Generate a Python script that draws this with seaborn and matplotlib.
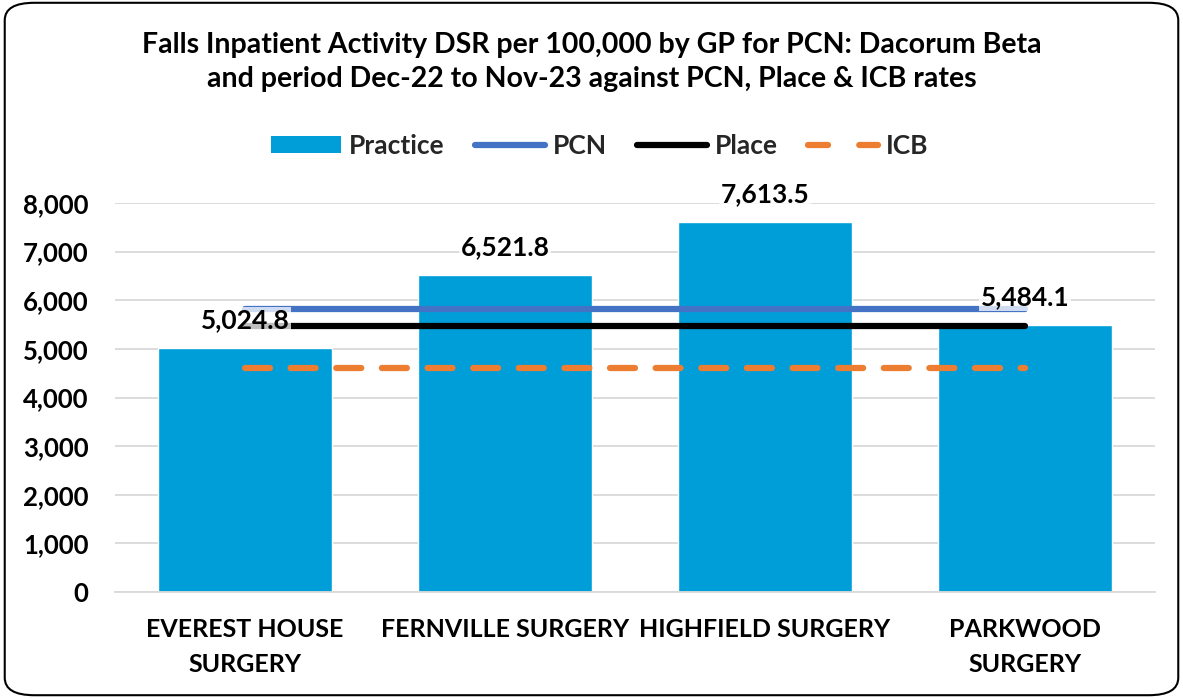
import matplotlib
matplotlib.use("Agg")
import matplotlib.pyplot as plt
from matplotlib.patches import FancyBboxPatch
from matplotlib.lines import Line2D
from matplotlib.patches import Patch
import seaborn as sns
import pandas as pd

categories = ["EVEREST HOUSE\nSURGERY", "FERNVILLE SURGERY", "HIGHFIELD SURGERY", "PARKWOOD\nSURGERY"]
practice = [5024.8, 6521.8, 7613.5, 5484.1]
pcn_rate = 5818.0
place_rate = 5480.0
icb_rate = 4603.0
yticks = [0, 1000, 2000, 3000, 4000, 5000, 6000, 7000, 8000]
title = "Falls Inpatient Activity DSR per 100,000 by GP for PCN: Dacorum Beta\nand period Dec-22 to Nov-23 against PCN, Place & ICB rates"

sns.set_theme(style="white")
plt.rcParams['font.family'] = ['Lato', 'DejaVu Sans']

fig = plt.figure(figsize=(11.83, 6.98), dpi=100)
ax = fig.add_axes([115/1183, 1-592/698, (1155-115)/1183, (592-203)/698])

df = pd.DataFrame({"cat": categories, "val": practice})
sns.barplot(data=df, x="cat", y="val", color="#009ED8", saturation=1, width=0.67, ax=ax, zorder=2)

n = len(categories)
xs = [0, n - 1]
ax.plot(xs, [pcn_rate]*2, color="#4472C4", lw=4.5, solid_capstyle="round", zorder=3)
ax.plot(xs, [place_rate]*2, color="#000000", lw=4.5, solid_capstyle="round", zorder=3)
ax.plot(xs, [icb_rate]*2, color="#ED7D31", lw=4.5, dashes=(4, 3.3), dash_capstyle="round", zorder=3)

for i, v in enumerate(practice):
    ax.annotate(f"{v:,.1f}", (i, v), xytext=(0, 20), textcoords="offset points",
                ha="center", va="center", fontsize=19, fontweight="bold", color="#000000",
                bbox=dict(boxstyle="square,pad=0.05", fc="white", ec="none", alpha=0.75), zorder=5)

ax.set_ylim(0, 8000)
ax.set_xlim(-0.5, n - 0.5)
ax.set_yticks(yticks)
ax.set_yticklabels([f"{t:,}" for t in yticks], fontsize=18.5, fontweight="bold")
ax.set_xticks(range(n))
ax.set_xticklabels(categories, fontsize=18, fontweight="bold", linespacing=1.6)
ax.set_xlabel("")
ax.set_ylabel("")
ax.yaxis.grid(True, color="#D9D9D9", lw=1.3, zorder=0)
ax.set_axisbelow(True)
for s in ["top", "right", "left"]:
    ax.spines[s].set_visible(False)
ax.spines["bottom"].set_color("#D9D9D9")
ax.spines["bottom"].set_linewidth(1.3)
ax.tick_params(axis="both", length=0, colors="#000000")
ax.tick_params(axis="y", pad=19)
ax.tick_params(axis="x", pad=19)

handles = [Patch(facecolor="#009ED8", edgecolor="none"),
           Line2D([], [], color="#4472C4", lw=4.5, solid_capstyle="round"),
           Line2D([], [], color="#000000", lw=4.5, solid_capstyle="round"),
           Line2D([], [], color="#ED7D31", lw=4.5, dashes=(3.2, 5), dash_capstyle="round")]
fig.legend(handles, ["Practice", "PCN", "Place", "ICB"], loc="center", bbox_to_anchor=(600/1183, 1-146/698),
           ncol=4, frameon=False, prop={"size": 19, "weight": "bold"}, handlelength=2.65,
           handleheight=0.6, columnspacing=1.15, handletextpad=0.3)

fig.text(0.5, 1-62/698, title, ha="center", va="center", fontsize=20.5, fontweight="bold",
         linespacing=1.42, color="#000000")

border = FancyBboxPatch((0.004, 0.004), 0.992, 0.992, boxstyle="round,pad=0,rounding_size=0.025",
                        transform=fig.transFigure, fill=False, ec="#000000", lw=1.5)
fig.patches.append(border)

fig.savefig("out.png", dpi=100, facecolor="white")
